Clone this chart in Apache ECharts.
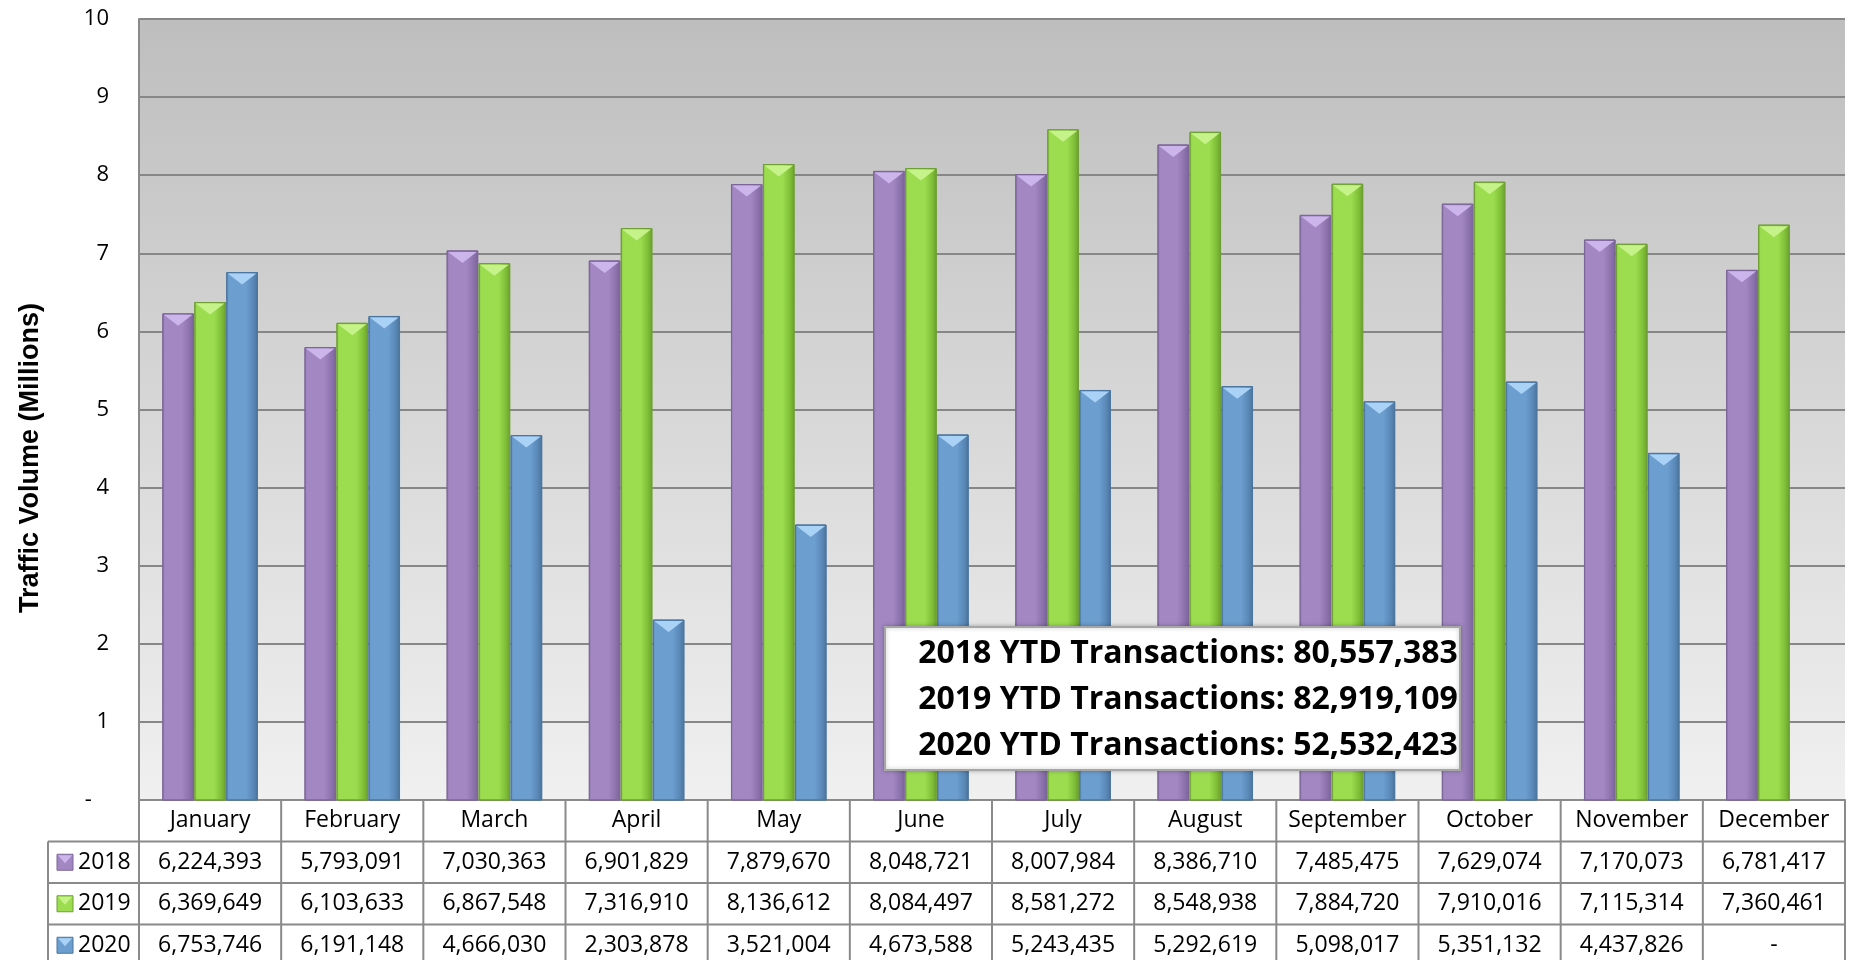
<!DOCTYPE html>
<html>
<head>
<meta charset="utf-8">
<script src="https://cdn.jsdelivr.net/npm/echarts@6/dist/echarts.min.js"></script>
<style>
  html, body { margin: 0; padding: 0; background: #fff; }
  #chart { width: 1851px; height: 960px; }
</style>
</head>
<body>
<div id="chart"></div>
<script>
// data
var months = ['January', 'February', 'March', 'April', 'May', 'June', 'July',
    'August', 'September', 'October', 'November', 'December'];
var years = ['2018', '2019', '2020'];
var traffic2018 = [6224393, 5793091, 7030363, 6901829, 7879670, 8048721, 8007984,
    8386710, 7485475, 7629074, 7170073, 6781417];
var traffic2019 = [6369649, 6103633, 6867548, 7316910, 8136612, 8084497, 8581272,
    8548938, 7884720, 7910016, 7115314, 7360461];
var traffic2020 = [6753746, 6191148, 4666030, 2303878, 3521004, 4673588, 5243435,
    5292619, 5098017, 5351132, 4437826, null];
var ytdTotals = [80557383, 82919109, 52532423];
var yTicks = [0, 10000000, 1000000]; // min, max, interval

var palette = [
    { base: '#a387c3', left: '#8d73ad', right: '#7b6398', light: '#cbb5ea', edge: '#7d6699' },
    { base: '#9cdd50', left: '#80c038', right: '#6b9f2f', light: '#c6f28a', edge: '#6f9f35' },
    { base: '#6c9ecf', left: '#5a89b9', right: '#4a7399', light: '#aad2f6', edge: '#4c769f' }
];

var FONT = '"Open Sans", "Liberation Sans", sans-serif';
var chart = echarts.init(document.getElementById('chart'));

function barRenderer(k) {
    var c = palette[k];
    return function (params, api) {
        var v = api.value(1);
        if (v == null || isNaN(v)) return;
        var base = api.coord([api.value(0), 0]);
        var top = api.coord([api.value(0), v]);
        var catW = api.size([1, 0])[0];
        var w = catW * 0.215;
        var step = catW * 0.225;
        var x = base[0] + (k - 1) * step - w / 2;
        var h = base[1] - top[1];
        var bev = Math.min(12, h);
        return {
            type: 'group',
            children: [{
                type: 'rect',
                shape: { x: x, y: top[1], width: w, height: h },
                style: {
                    fill: {
                        type: 'linear', x: 0, y: 0, x2: 1, y2: 0,
                        colorStops: [
                            { offset: 0, color: c.left },
                            { offset: 0.08, color: c.base },
                            { offset: 0.62, color: c.base },
                            { offset: 0.85, color: c.left },
                            { offset: 1, color: c.right }
                        ]
                    },
                    stroke: c.edge,
                    lineWidth: 1
                }
            }, {
                type: 'polygon',
                shape: { points: [[x + 1, top[1] + 1], [x + w - 1, top[1] + 1], [x + w / 2, top[1] + bev]] },
                style: { fill: c.light }
            }]
        };
    };
}

function toPairs(arr) {
    return arr.map(function (v, i) { return [i, v]; });
}

var option = {
    animation: false,
    grid: {
        left: 139,
        right: 6,
        top: 19,
        bottom: 160,
        show: true,
        borderWidth: 0,
        backgroundColor: {
            type: 'linear', x: 0, y: 0, x2: 0, y2: 1,
            colorStops: [
                { offset: 0, color: '#bebebe' },
                { offset: 1, color: '#f0f0f0' }
            ]
        }
    },
    xAxis: {
        type: 'category',
        data: months,
        axisLine: { show: true, lineStyle: { color: '#8a8a8a', width: 2 } },
        axisTick: { show: false },
        axisLabel: { show: false }
    },
    yAxis: {
        type: 'value',
        min: yTicks[0],
        max: yTicks[1],
        interval: yTicks[2],
        axisLine: { show: true, lineStyle: { color: '#8a8a8a', width: 2 } },
        axisTick: { show: false },
        splitLine: { show: true, lineStyle: { color: '#878787', width: 2 } },
        axisLabel: {
            margin: 30,
            fontFamily: FONT,
            fontSize: 22,
            color: '#000',
            formatter: function (v) {
                return v === 0 ? '-   ' : String(v / 1000000);
            }
        }
    },
    series: [
        { name: years[0], type: 'custom', renderItem: barRenderer(0), encode: { x: 0, y: 1 }, data: toPairs(traffic2018) },
        { name: years[1], type: 'custom', renderItem: barRenderer(1), encode: { x: 0, y: 1 }, data: toPairs(traffic2019) },
        { name: years[2], type: 'custom', renderItem: barRenderer(2), encode: { x: 0, y: 1 }, data: toPairs(traffic2020) }
    ]
};
chart.setOption(option);

// ---- data table under the chart + text box
function fmt(v) {
    return v == null ? '-' : v.toLocaleString('en-US');
}

function buildGraphics() {
    var els = [];
    var c0 = chart.convertToPixel({ xAxisIndex: 0 }, 0);
    var c1 = chart.convertToPixel({ xAxisIndex: 0 }, 1);
    var colW = c1 - c0;
    var left = c0 - colW / 2;
    var right = left + colW * months.length;
    var y0 = chart.convertToPixel({ yAxisIndex: 0 }, 0);
    var rowH = 41.5;
    var legLeft = 48;
    var bottom = 1000;
    var lineStyle = { stroke: '#8a8a8a', lineWidth: 2 };
    var rows = [traffic2018, traffic2019, traffic2020];

    // background of table
    els.push({ type: 'rect', shape: { x: legLeft, y: y0 + rowH, width: right - legLeft, height: bottom - y0 }, style: { fill: '#fff' }, z: 1 });

    // horizontal lines
    for (var r = 1; r <= rows.length; r++) {
        els.push({ type: 'line', shape: { x1: legLeft, y1: y0 + r * rowH, x2: right, y2: y0 + r * rowH }, style: lineStyle, z: 5 });
    }
    // vertical lines
    for (var i = 0; i <= months.length; i++) {
        var x = left + i * colW;
        els.push({ type: 'line', shape: { x1: x, y1: y0, x2: x, y2: bottom }, style: lineStyle, z: 5 });
    }
    els.push({ type: 'line', shape: { x1: legLeft, y1: y0 + rowH, x2: legLeft, y2: bottom }, style: lineStyle, z: 5 });

    // month header
    months.forEach(function (m, i) {
        els.push({
            type: 'text', z: 6,
            style: { text: m, x: left + (i + 0.5) * colW, y: y0 + rowH / 2, align: 'center', verticalAlign: 'middle', fontFamily: FONT, fontSize: 23, fill: '#000' }
        });
    });

    // data rows
    rows.forEach(function (arr, r) {
        var cy = y0 + (r + 1.5) * rowH;
        var c = palette[r];
        els.push({ type: 'rect', z: 6, shape: { x: 57, y: cy - 8, width: 16, height: 16 }, style: { fill: c.base, stroke: c.edge, lineWidth: 1 } });
        els.push({ type: 'polygon', z: 7, shape: { points: [[58, cy - 7], [72, cy - 7], [65, cy + 1]] }, style: { fill: c.light } });
        els.push({
            type: 'text', z: 6,
            style: { text: years[r], x: 78, y: cy, align: 'left', verticalAlign: 'middle', fontFamily: FONT, fontSize: 23, fill: '#000' }
        });
        arr.forEach(function (v, i) {
            els.push({
                type: 'text', z: 6,
                style: { text: fmt(v), x: left + (i + 0.5) * colW, y: cy, align: 'center', verticalAlign: 'middle', fontFamily: FONT, fontSize: 23, fill: '#000' }
            });
        });
    });

    // y axis name
    els.push({
        type: 'text', z: 6, x: 31, y: 458, rotation: Math.PI / 2,
        style: { text: 'Traffic Volume (Millions)', x: 0, y: 0, align: 'center', verticalAlign: 'middle', fontFamily: '"Liberation Sans", Arial, sans-serif', fontWeight: 'bold', fontSize: 27, fill: '#000' }
    });

    // YTD box
    els.push({
        type: 'rect', z: 50,
        shape: { x: 885, y: 627, width: 575, height: 143 },
        style: { fill: '#fff', stroke: '#a6a6a6', lineWidth: 2, shadowBlur: 4, shadowColor: 'rgba(0,0,0,0.25)' }
    });
    ytdTotals.forEach(function (t, r) {
        els.push({
            type: 'text', z: 51,
            style: { text: years[r] + ' YTD Transactions: ' + fmt(t), x: 1188, y: 654 + r * 46, align: 'center', verticalAlign: 'middle', fontFamily: FONT, fontWeight: 'bold', fontSize: 32, fill: '#000' }
        });
    });

    chart.setOption({ graphic: { elements: els } });
}
buildGraphics();
</script>
</body>
</html>
